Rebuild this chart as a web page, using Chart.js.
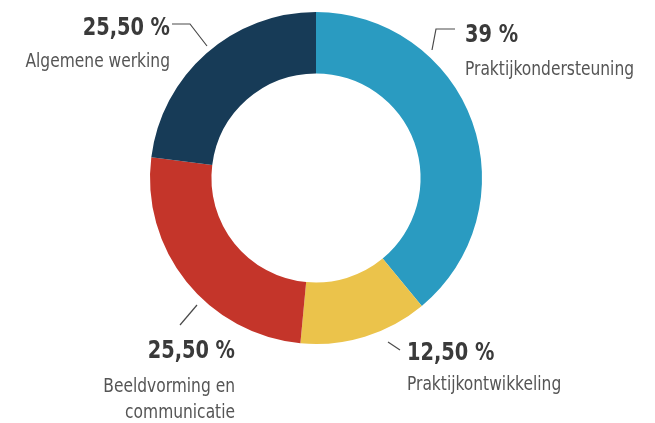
<!DOCTYPE html>
<html>
<head>
<meta charset="utf-8">
<script src="https://cdn.jsdelivr.net/npm/chart.js@4"></script>
<style>
  html, body { margin: 0; padding: 0; background: #fff; }
  #donut { display: block; }
</style>
</head>
<body>
<canvas id="donut" width="655" height="423"></canvas>
<script>
// data (clockwise from the top)
const categories = ["Praktijkondersteuning", "Praktijkontwikkeling", "Beeldvorming en communicatie", "Algemene werking"];
const shares = [39, 12.5, 25.5, 23];
const shareLabels = ["39 %", "12,50 %", "25,50 %", "25,50 %"];
const labelLines = [["Praktijkondersteuning"], ["Praktijkontwikkeling"], ["Beeldvorming en", "communicatie"], ["Algemene werking"]];
const colors = ["#2a9bc1", "#ebc34b", "#c4352a", "#173b57"];

const FONT = "'DejaVu Sans Condensed', 'Liberation Sans', sans-serif";
const SQUEEZE = 0.86; // condensed look of the original typeface

// where each annotation sits, relative to the doughnut centre
const callouts = [
  { line: [[139, -149], [120, -149], [116, -128]], align: "left", x: 149, big: -136, small: [-103] },
  { line: [[72, 164], [84, 172]], align: "left", x: 91, big: 182, small: [212] },
  { line: [[-119, 127], [-136, 147]], align: "right", x: -81, big: 180, small: [214, 240] },
  { line: [[-144, -154], [-126, -154], [-109, -132]], align: "right", x: -146, big: -143, small: [-111] }
];

function squeezedText(ctx, text, x, y) {
  ctx.save();
  ctx.translate(x, y);
  ctx.scale(SQUEEZE, 1);
  ctx.fillText(text, 0, 0);
  ctx.restore();
}

const calloutPlugin = {
  id: "callouts",
  afterDraw(chart) {
    const ctx = chart.ctx;
    const arc = chart.getDatasetMeta(0).data[0];
    const cx = arc.x, cy = arc.y;
    ctx.save();
    callouts.forEach((c, i) => {
      ctx.strokeStyle = "#4a4a4a";
      ctx.lineWidth = 1.2;
      ctx.beginPath();
      c.line.forEach((p, j) => {
        if (j === 0) ctx.moveTo(cx + p[0], cy + p[1]);
        else ctx.lineTo(cx + p[0], cy + p[1]);
      });
      ctx.stroke();

      ctx.textAlign = c.align;
      ctx.textBaseline = "alphabetic";
      ctx.fillStyle = "#3a3a3a";
      ctx.font = "bold 25px " + FONT;
      squeezedText(ctx, shareLabels[i], cx + c.x, cy + c.big);
      ctx.fillStyle = "#555555";
      ctx.font = "20px " + FONT;
      labelLines[i].forEach((t, k) => {
        squeezedText(ctx, t, cx + c.x, cy + c.small[k]);
      });
    });
    ctx.restore();
  }
};

new Chart(document.getElementById("donut"), {
  type: "doughnut",
  data: {
    labels: categories,
    datasets: [{
      data: shares,
      backgroundColor: colors,
      borderWidth: 0,
      hoverOffset: 0
    }]
  },
  options: {
    responsive: false,
    animation: false,
    cutout: "63%",
    layout: { padding: { left: 150, right: 173, top: 12, bottom: 79 } },
    plugins: {
      legend: { display: false },
      tooltip: { enabled: false }
    }
  },
  plugins: [calloutPlugin]
});
</script>
</body>
</html>
